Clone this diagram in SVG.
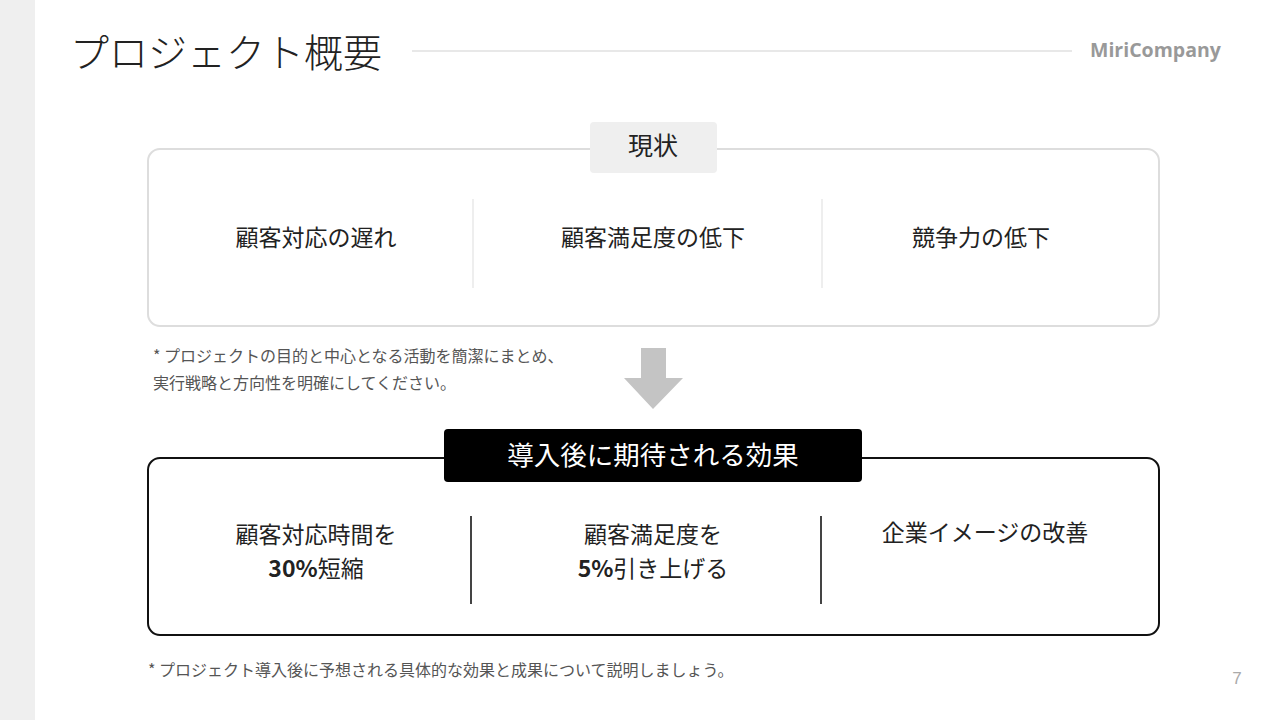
<svg xmlns="http://www.w3.org/2000/svg" width="1280" height="720" viewBox="0 0 1280 720">
<style>
.jp{font-family:"Noto Sans CJK JP","Noto Sans",sans-serif;}
.item{font-size:23px;fill:#222;text-anchor:middle;}
.note{font-size:16px;fill:#555;}
.b{font-weight:700;}
</style>
<rect x="0" y="0" width="1280" height="720" fill="#ffffff"/>
<rect x="0" y="0" width="35" height="720" fill="#efefef"/>
<g id="header">
<text x="70" y="67" class="jp" font-size="39" font-weight="300" fill="#222">プロジェクト概要</text>
<line x1="412" y1="51" x2="1072" y2="51" stroke="#e8e8e8" stroke-width="2"/>
<text x="1090" y="57" font-family="'Open Sans','DejaVu Sans',sans-serif" font-weight="700" font-size="19.5" fill="#999">MiriCompany</text>
</g>
<g id="current">
<rect x="148" y="149" width="1011" height="177" rx="12" fill="#fff" stroke="#ddd" stroke-width="2"/>
<rect x="590" y="122" width="127" height="51" rx="4" fill="#efefef"/>
<text x="653" y="155" class="jp" font-size="25" fill="#222" text-anchor="middle">現状</text>
<line x1="473" y1="199" x2="473" y2="288" stroke="#eee" stroke-width="2"/>
<line x1="822" y1="199" x2="822" y2="288" stroke="#eee" stroke-width="2"/>
<text x="316" y="246" class="jp item">顧客対応の遅れ</text>
<text x="653" y="246" class="jp item">顧客満足度の低下</text>
<text x="981" y="246" class="jp item">競争力の低下</text>
</g>
<g id="note1">
<text x="153" y="362" class="jp note">* プロジェクトの目的と中心となる活動を簡潔にまとめ、</text>
<text x="153" y="389" class="jp note">実行戦略と方向性を明確にしてください。</text>
</g>
<g id="connectors">
<polygon points="641,348 666,348 666,378 683,378 653,409 624,378 641,378" fill="#c4c4c4"/>
</g>
<g id="effect">
<rect x="148" y="458" width="1011" height="177" rx="12" fill="#fff" stroke="#111" stroke-width="2"/>
<rect x="444" y="429" width="418" height="53" rx="4" fill="#000"/>
<text x="653" y="465" class="jp" font-size="26.5" fill="#fff" text-anchor="middle">導入後に期待される効果</text>
<line x1="471" y1="516" x2="471" y2="604" stroke="#444" stroke-width="2"/>
<line x1="821" y1="516" x2="821" y2="604" stroke="#444" stroke-width="2"/>
<text x="316" y="543" class="jp item">顧客対応時間を</text>
<text x="316" y="577" class="jp item"><tspan class="b">30%</tspan>短縮</text>
<text x="653" y="543" class="jp item">顧客満足度を</text>
<text x="653" y="577" class="jp item"><tspan class="b">5%</tspan>引き上げる</text>
<text x="985" y="541" class="jp item">企業イメージの改善</text>
</g>
<g id="note2">
<text x="148" y="676" class="jp note">* プロジェクト導入後に予想される具体的な効果と成果について説明しましょう。</text>
</g>
<text x="1237" y="684" font-family="'Liberation Sans',sans-serif" font-size="17" fill="#aaa" text-anchor="middle">7</text>
</svg>
